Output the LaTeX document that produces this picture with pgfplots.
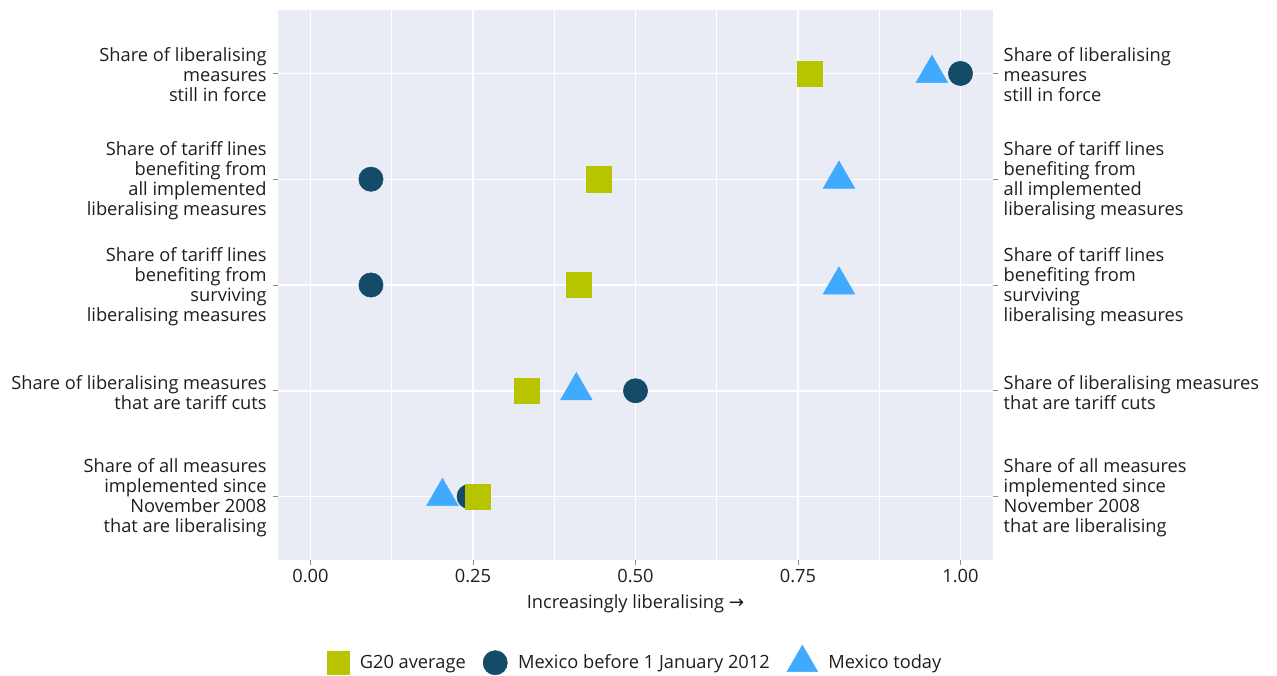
\documentclass[border=0pt]{standalone}
\usepackage{fontspec}
\setmainfont{Open Sans}
\newfontfamily\arrowfont{DejaVu Sans}
\usepackage{pgfplots}
\pgfplotsset{compat=1.18}

\definecolor{bgc}{HTML}{E9ECF5}
\definecolor{g20}{HTML}{B8C400}
\definecolor{mexold}{HTML}{134B69}
\definecolor{mexnow}{HTML}{40AAFF}
\definecolor{txt}{HTML}{1E1E1E}

\pgfplotsset{
  base/.style={
    scale only axis, width=536.25pt, height=412.5pt,
    xmin=-0.05, xmax=1.05, ymin=0.4, ymax=5.6,
    axis line style={draw=none},
    ytick={1,2,3,4,5},
    tick label style={font=\fontsize{13.7}{15}\selectfont, text=txt},
  },
}

\begin{document}
\begin{tikzpicture}
\begin{axis}[base, name=ax,
  axis background/.style={fill=bgc},
  xtick={0,0.25,0.5,0.75,1},
  xticklabels={0.00,0.25,0.50,0.75,1.00},
  minor xtick={0.125,0.375,0.625,0.875},
  xmajorgrids, xminorgrids, ymajorgrids,
  major grid style={white, line width=1.1pt},
  minor grid style={white, line width=0.55pt},
  tick style={black!45, line width=0.7pt},
  tick align=outside, major tick length=3.5pt, minor tick length=0pt,
  xtick pos=bottom, ytick pos=both,
  yticklabel style={align=right, xshift=-1.5pt, yshift=-1pt},
  yticklabels={
    {Share of all measures\\implemented since\\November 2008\\that are liberalising},
    {Share of liberalising measures\\that are tariff cuts},
    {Share of tariff lines\\benefiting from\\surviving\\liberalising measures},
    {Share of tariff lines\\benefiting from\\all implemented\\liberalising measures},
    {Share of liberalising\\measures\\still in force}},
  xlabel={Increasingly liberalising {\arrowfont →}},
  xlabel style={font=\fontsize{13.7}{15}\selectfont, text=txt, yshift=-2pt},
  legend columns=3,
  legend style={at={(0.5,0)}, anchor=center, yshift=-75pt, draw=none, fill=none,
    font=\fontsize{13.7}{15}\selectfont, text=txt,
    /tikz/every even column/.append style={column sep=11pt},
    /tikz/every odd column/.append style={column sep=6pt}},
  legend cell align=left,
]
\addlegendimage{only marks, mark=square*, mark size=8.3pt, color=g20}
\addlegendentry{G20 average}
\addlegendimage{only marks, mark=*, mark size=9.1pt, color=mexold}
\addlegendentry{Mexico before 1 January 2012}
\addlegendimage{only marks, mark=triangle*, mark size=13.2pt, color=mexnow}
\addlegendentry{Mexico today}

% Mexico today
\addplot[only marks, mark=triangle*, mark size=13.7pt, color=mexnow, forget plot]
  coordinates {(0.956,5) (0.813,4) (0.813,3) (0.409,2) (0.203,1)};
% Mexico before 1 January 2012
\addplot[only marks, mark=*, mark size=9.1pt, color=mexold, forget plot]
  coordinates {(1.0,5) (0.093,4) (0.093,3) (0.5,2) (0.244,1)};
% G20 average
\addplot[only marks, mark=square*, mark size=9.4pt, color=g20, forget plot]
  coordinates {(0.768,5) (0.443,4) (0.412,3) (0.333,2) (0.257,1)};
\end{axis}

\begin{axis}[base,
  xtick=\empty,
  ytick style={draw=none},
  yticklabel pos=right,
  yticklabel style={align=left, xshift=4.5pt, yshift=-1pt},
  yticklabels={
    {Share of all measures\\implemented since\\November 2008\\that are liberalising},
    {Share of liberalising measures\\that are tariff cuts},
    {Share of tariff lines\\benefiting from\\surviving\\liberalising measures},
    {Share of tariff lines\\benefiting from\\all implemented\\liberalising measures},
    {Share of liberalising\\measures\\still in force}},
]
\end{axis}

\pgfresetboundingbox
\path[use as bounding box] ([shift={(-208.5pt,-86.25pt)}]ax.south west)
  rectangle ([shift={(749.25pt,420pt)}]ax.south west);
\end{tikzpicture}
\end{document}
